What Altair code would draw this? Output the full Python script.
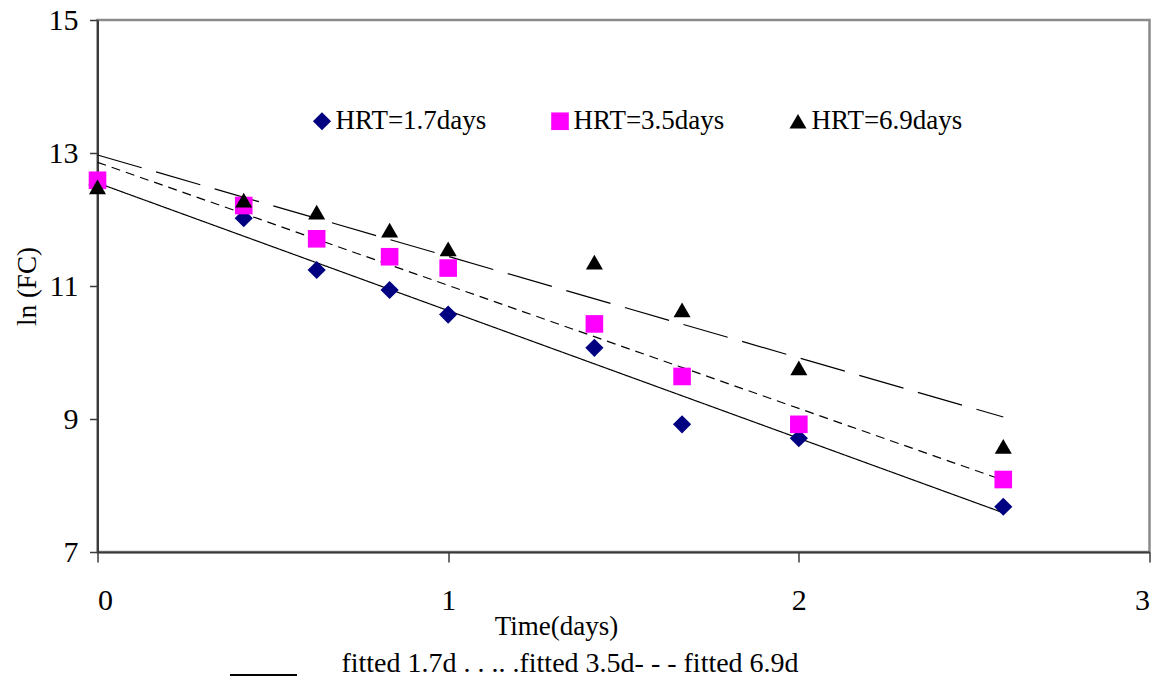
import altair as alt
import pandas as pd

# ---- data ----
time_days = [0, 0.417, 0.625, 0.833, 1.0, 1.417, 1.667, 2.0, 2.583]
series_names = ["HRT=1.7days", "HRT=3.5days", "HRT=6.9days"]
hrt_17 = [12.52, 12.02, 11.24, 10.94, 10.57, 10.07, 8.92, 8.71, 7.68]
hrt_35 = [12.59, 12.21, 11.71, 11.44, 11.27, 10.43, 9.64, 8.92, 8.09]
hrt_69 = [12.49, 12.29, 12.11, 11.84, 11.56, 11.36, 10.64, 9.77, 8.59]

fit_names = ["fitted 1.7d", "fitted 3.5d", "fitted 6.9d"]
fit_t = [0, 2.583]
fit_17 = [12.55, 7.59]
fit_35 = [12.86, 8.08]
fit_69 = [12.97, 9.03]

x_ticks = [0, 1, 2, 3]
y_ticks = [7, 9, 11, 13, 15]
bottom_legend_text = "fitted 1.7d . . .. .fitted 3.5d- - - fitted 6.9d"

FONT = "Liberation Serif"

pts = pd.DataFrame(
    [(t, v, series_names[0]) for t, v in zip(time_days, hrt_17)]
    + [(t, v, series_names[1]) for t, v in zip(time_days, hrt_35)]
    + [(t, v, series_names[2]) for t, v in zip(time_days, hrt_69)],
    columns=["t", "v", "series"],
)
pts["order"] = pts["series"].map({n: i for i, n in enumerate(series_names)})

fits = pd.DataFrame(
    [(t, v, fit_names[0]) for t, v in zip(fit_t, fit_17)]
    + [(t, v, fit_names[1]) for t, v in zip(fit_t, fit_35)]
    + [(t, v, fit_names[2]) for t, v in zip(fit_t, fit_69)],
    columns=["t", "v", "fit"],
)

x_scale = alt.Scale(domain=[0, 3], nice=False, zero=False)
y_scale = alt.Scale(domain=[7, 15], nice=False, zero=False)

x_axis = alt.Axis(
    values=x_ticks, format="d", grid=False, tickSize=10, labelPadding=23,
    labelFontSize=30, labelFont=FONT, labelColor="black",
    domainColor="#3a3a3a", domainWidth=2, tickColor="#3a3a3a", tickWidth=1.5,
    title="Time(days)", titleFont=FONT, titleFontSize=27, titleFontWeight="normal",
    titleColor="black", titleX=458.5, titleY=82, titleAlign="center",
    titleBaseline="alphabetic",
)
y_axis = alt.Axis(
    values=y_ticks, format="d", grid=False, tickSize=8, labelPadding=11.5,
    labelFontSize=30, labelFont=FONT, labelColor="black",
    domainColor="#3a3a3a", domainWidth=2, tickColor="#3a3a3a", tickWidth=1.5,
    title="ln (FC)", titleFont=FONT, titleFontSize=27, titleFontWeight="normal",
    titleColor="black", titleAngle=270, titleX=-62, titleY=266,
    titleAlign="center", titleBaseline="alphabetic",
)

lines = alt.Chart(fits).mark_line(color="black", strokeWidth=1.2).encode(
    x=alt.X("t:Q", scale=x_scale, axis=x_axis),
    y=alt.Y("v:Q", scale=y_scale, axis=y_axis),
    strokeDash=alt.StrokeDash(
        "fit:N",
        scale=alt.Scale(domain=fit_names, range=[[1, 0], [9, 6], [46, 15]]),
        legend=None,
    ),
    detail="fit:N",
)

legend = alt.Legend(
    title=None, orient="none", legendX=211, legendY=87.5,
    direction="horizontal", labelFont=FONT, labelFontSize=27,
    labelColor="black", labelOffset=0, columnPadding=60,
    symbolSize=330, symbolStrokeWidth=0, padding=0,
)

points = alt.Chart(pts).mark_point(filled=True, opacity=1, strokeWidth=0).encode(
    x=alt.X("t:Q", scale=x_scale),
    y=alt.Y("v:Q", scale=y_scale),
    color=alt.Color(
        "series:N",
        scale=alt.Scale(domain=series_names, range=["#000080", "#FF00FF", "#000000"]),
        legend=legend,
    ),
    shape=alt.Shape(
        "series:N",
        scale=alt.Scale(domain=series_names, range=["diamond", "square", "triangle-up"]),
        legend=legend,
    ),
    size=alt.Size(
        "series:N",
        scale=alt.Scale(domain=series_names, range=[330, 290, 400]),
        legend=legend,
    ),
    order=alt.Order("order:Q"),
)

bottom_text = alt.Chart(pd.DataFrame({"txt": [bottom_legend_text]})).mark_text(
    font=FONT, fontSize=28, color="black", align="center", baseline="alphabetic"
).encode(text="txt:N", x=alt.value(472.5), y=alt.value(652))

bottom_rule = alt.Chart(pd.DataFrame({"k": [0]})).mark_rule(
    color="black", strokeWidth=2
).encode(x=alt.value(132.5), x2=alt.value(199.5), y=alt.value(655))

chart = (
    alt.layer(lines, points, bottom_text, bottom_rule)
    .properties(
        width=1052, height=532,
        autosize=alt.AutoSizeParams(type="none"),
        padding={"left": 89.5, "top": 12, "right": 4, "bottom": 126},
        background="white",
    )
    .configure(font=FONT)
    .configure_legend(labelFont=FONT, labelFontSize=27)
    .configure_view(stroke="#8a8a8a", strokeWidth=2.5)
)

chart.save("out.html", embed_options={"renderer": "svg", "actions": False})
